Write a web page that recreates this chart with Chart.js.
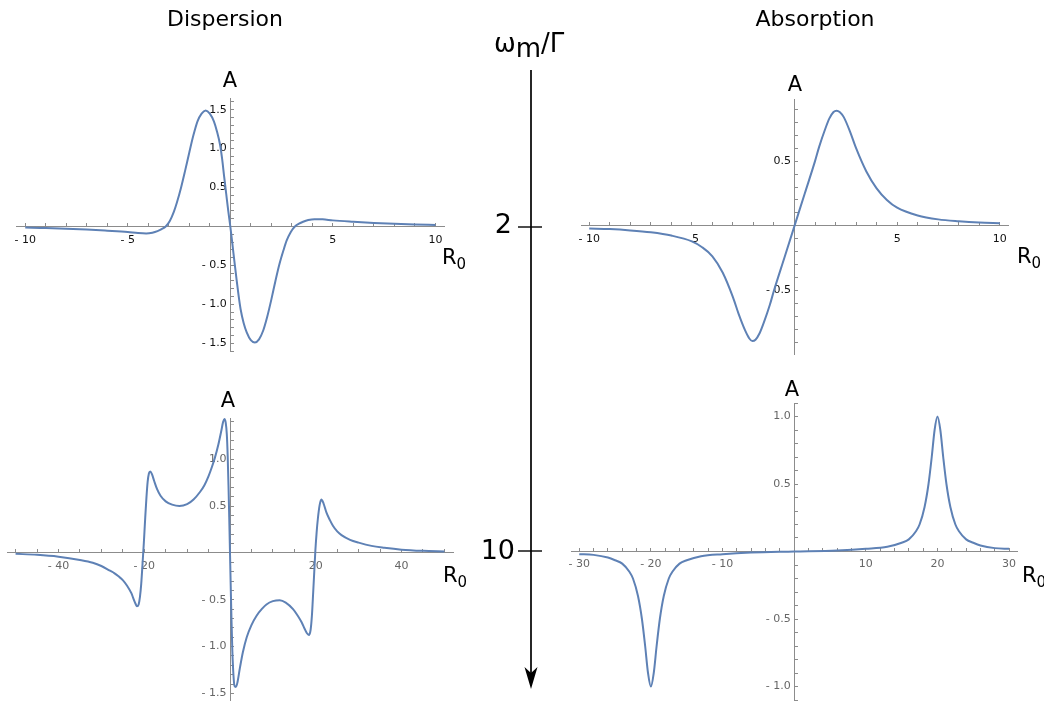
<!DOCTYPE html>
<html>
<head>
<meta charset="utf-8">
<script src="https://cdn.jsdelivr.net/npm/chart.js@4.4.0/dist/chart.umd.min.js"></script>
<style>
body { margin: 0; background: #fff; }
#page { position: relative; width: 1044px; height: 702px; overflow: hidden; font-family: "DejaVu Sans", sans-serif; color: #000; }
canvas { position: absolute; }
.lbl { position: absolute; line-height: 1; white-space: nowrap; }
.sub { position: relative; }
</style>
</head>
<body>
<div id="page">
  <canvas id="dispTop" width="460" height="300" style="left:0px;top:60px"></canvas>
  <canvas id="dispBottom" width="460" height="322" style="left:0px;top:380px"></canvas>
  <canvas id="absTop" width="484" height="300" style="left:560px;top:60px"></canvas>
  <canvas id="absBottom" width="484" height="332" style="left:560px;top:370px"></canvas>

  <svg width="1044" height="702" style="position:absolute;left:0;top:0">
    <line x1="531" y1="70" x2="531" y2="678" stroke="#000" stroke-width="1.7"/>
    <polygon points="531,689 524.5,667 531,673 537.5,667" fill="#000"/>
    <line x1="518" y1="227" x2="542" y2="227" stroke="#000" stroke-width="1.4"/>
    <line x1="518" y1="551" x2="542" y2="551" stroke="#000" stroke-width="1.4"/>
  </svg>

  <div class="lbl" style="font-size:22px;left:225px;top:8px;transform:translateX(-50%)">Dispersion</div>
  <div class="lbl" style="font-size:22px;left:815px;top:8px;transform:translateX(-50%)">Absorption</div>
  <div class="lbl" style="font-size:26px;left:494px;top:30px">ω<span class="sub" style="top:5px">m</span>/Γ</div>
  <div class="lbl" style="font-size:27px;right:532px;top:210px">2</div>
  <div class="lbl" style="font-size:27px;right:529px;top:536px">10</div>

  <div class="lbl" style="font-size:21px;left:230px;top:70px;transform:translateX(-50%)">A</div>
  <div class="lbl" style="font-size:21px;left:228px;top:390px;transform:translateX(-50%)">A</div>
  <div class="lbl" style="font-size:21px;left:795px;top:74px;transform:translateX(-50%)">A</div>
  <div class="lbl" style="font-size:21px;left:792px;top:379px;transform:translateX(-50%)">A</div>

  <div class="lbl" style="font-size:21px;left:442px;top:247px">R<span class="sub" style="font-size:15px;top:5px">0</span></div>
  <div class="lbl" style="font-size:21px;left:443px;top:565px">R<span class="sub" style="font-size:15px;top:5px">0</span></div>
  <div class="lbl" style="font-size:21px;left:1017px;top:246px">R<span class="sub" style="font-size:15px;top:5px">0</span></div>
  <div class="lbl" style="font-size:21px;left:1022px;top:565px">R<span class="sub" style="font-size:15px;top:5px">0</span></div>
</div>

<script>
// dispersion, omega_m / Gamma = 2
const dispW2R = [-10, -9, -8, -7, -6, -5, -4.5, -4.1, -3.8, -3.55, -3.35, -3.15, -2.95, -2.75, -2.6, -2.4, -2.2, -2.0, -1.8, -1.6,
  -1.4, -1.2, -1.0, -0.8, -0.65, -0.5, -0.4, -0.3, -0.2, -0.1, 0, 0.1, 0.2, 0.3, 0.4, 0.5, 0.65, 0.8, 1.0, 1.2,
  1.4, 1.6, 1.8, 2.0, 2.2, 2.4, 2.6, 2.75, 2.95, 3.15, 3.35, 3.55, 3.8, 4.1, 4.5, 5, 6, 7, 8, 9, 10];
const dispW2A = [-0.015, -0.02, -0.03, -0.04, -0.055, -0.072, -0.085, -0.09, -0.08, -0.06, -0.035, 0, 0.07, 0.19, 0.31, 0.5, 0.72, 0.95, 1.17, 1.35,
  1.45, 1.49, 1.45, 1.35, 1.22, 1.05, 0.87, 0.64, 0.42, 0.2, 0, -0.22, -0.45, -0.67, -0.88, -1.06, -1.24, -1.36, -1.46, -1.49,
  -1.45, -1.34, -1.16, -0.94, -0.7, -0.48, -0.3, -0.18, -0.07, 0, 0.035, 0.06, 0.082, 0.094, 0.092, 0.078, 0.06, 0.045, 0.034, 0.026, 0.02];

// dispersion, omega_m / Gamma = 10
const dispW10R = [-50, -45, -40, -35, -32, -30, -28, -27, -26, -25, -24, -23, -22.5, -22, -21.7, -21.3, -21, -20.7, -20.4, -20.1,
  -19.8, -19.5, -19.2, -18.9, -18.6, -18.2, -17.7, -17, -16.2, -15, -13.5, -11.8, -10, -8.5, -7, -6, -5, -4.2, -3.5, -2.7,
  -2, -1.6, -1.3, -1, -0.75, -0.55, -0.35, -0.18, 0, 0.18, 0.35, 0.55, 0.8, 1.05, 1.35, 1.7, 2.3, 3, 3.9, 5,
  6.2, 7.5, 8.5, 10, 11.6, 13, 14.7, 15.8, 16.7, 17.4, 17.9, 18.4, 18.8, 19.1, 19.4, 19.65, 19.9, 20.2, 20.5, 20.9,
  21.3, 21.8, 22.5, 23.3, 24, 25, 26, 28, 30, 33, 36, 40, 45, 50];
const dispW10A = [-0.01, -0.02, -0.04, -0.075, -0.105, -0.14, -0.19, -0.215, -0.25, -0.29, -0.35, -0.43, -0.49, -0.545, -0.57, -0.55, -0.47, -0.33, -0.12, 0.1,
  0.35, 0.58, 0.76, 0.85, 0.87, 0.84, 0.77, 0.68, 0.61, 0.55, 0.515, 0.5, 0.52, 0.57, 0.65, 0.72, 0.82, 0.92, 1.02, 1.16,
  1.31, 1.4, 1.43, 1.39, 1.27, 1.05, 0.72, 0.38, 0, -0.38, -0.72, -1.05, -1.3, -1.42, -1.43, -1.39, -1.23, -1.06, -0.9, -0.77,
  -0.67, -0.595, -0.55, -0.515, -0.505, -0.53, -0.6, -0.67, -0.74, -0.81, -0.855, -0.875, -0.82, -0.67, -0.42, -0.2, 0.02, 0.22, 0.37, 0.51,
  0.57, 0.53, 0.43, 0.35, 0.29, 0.23, 0.19, 0.14, 0.11, 0.075, 0.055, 0.035, 0.022, 0.015];

// absorption, omega_m / Gamma = 2
const absW2R = [-10, -9, -8, -7, -6, -5, -4.5, -4, -3.5, -3, -2.7, -2.4, -2.2, -2.05, -1.9, -1.7, -1.5, -1.2, -1, -0.5,
  0, 0.5, 1, 1.2, 1.5, 1.7, 1.9, 2.05, 2.2, 2.4, 2.7, 3, 3.5, 4, 4.5, 5, 6, 7, 8, 9, 10];
const absW2A = [-0.02, -0.025, -0.035, -0.05, -0.075, -0.12, -0.165, -0.235, -0.36, -0.55, -0.69, -0.81, -0.87, -0.89, -0.88, -0.83, -0.75, -0.61, -0.5, -0.25,
  0, 0.25, 0.5, 0.61, 0.75, 0.83, 0.88, 0.89, 0.88, 0.84, 0.73, 0.6, 0.42, 0.29, 0.2, 0.14, 0.08, 0.05, 0.035, 0.025, 0.02];

// absorption, omega_m / Gamma = 10
const absW10R = [-30, -28, -26, -25, -24, -23, -22.5, -21.8, -21.25, -20.8, -20.4, -20, -19.6, -19.2, -18.75, -18.2, -17.5, -17, -16, -15,
  -13, -10, -6, 0, 6, 10, 13, 15, 16, 17, 17.5, 18.2, 18.75, 19.2, 19.6, 20, 20.4, 20.8, 21.25, 21.8,
  22.5, 23, 24, 25, 26, 28, 30];
const absW10A = [-0.02, -0.025, -0.045, -0.065, -0.09, -0.15, -0.2, -0.33, -0.5, -0.7, -0.9, -1, -0.9, -0.7, -0.5, -0.33, -0.2, -0.15, -0.09, -0.065,
  -0.035, -0.02, -0.008, 0, 0.008, 0.02, 0.035, 0.065, 0.09, 0.15, 0.2, 0.33, 0.5, 0.7, 0.9, 1, 0.9, 0.7, 0.5, 0.33,
  0.2, 0.15, 0.09, 0.065, 0.045, 0.025, 0.02];

// labelled ticks
const dispW2XLabels = [-10, -5, 5, 10];
const dispW2YLabels = [-1.5, -1, -0.5, 0.5, 1, 1.5];
const dispW10XLabels = [-40, -20, 20, 40];
const dispW10YLabels = [-1.5, -1, -0.5, 0.5, 1];
const absW2XLabels = [-10, -5, 5, 10];
const absW2YLabels = [-0.5, 0.5];
const absW10XLabels = [-30, -20, -10, 10, 20, 30];
const absW10YLabels = [-1, -0.5, 0.5, 1];

const CURVE = '#5e81b5';
const AXIS = '#8c8c8c';

function steps(a, b, s) {
    let out = [];
    for (let v = a; v <= b + 1e-9; v += s) out.push(Math.round(v * 1000) / 1000);
    return out;
}

function near(list, v) {
    return list.some(m => Math.abs(m - v) < 1e-6);
}

function fmt(v, dec) {
    let s = Math.abs(v).toFixed(dec);
    return v < 0 ? '- ' + s : s;
}

function makePanel(id, xs, ys, p) {
    const font = { family: 'DejaVu Sans', size: 11 };
    new Chart(document.getElementById(id), {
        type: 'line',
        data: {
            datasets: [{
                data: xs.map((x, i) => ({ x: x, y: ys[i] })),
                borderColor: CURVE,
                borderWidth: 2,
                pointRadius: 0,
                fill: false,
                cubicInterpolationMode: 'monotone',
                clip: false
            }]
        },
        options: {
            responsive: false,
            animation: false,
            events: [],
            layout: { padding: p.pad },
            plugins: { legend: { display: false }, tooltip: { enabled: false } },
            scales: {
                x: {
                    type: 'linear',
                    min: p.xMin, max: p.xMax,
                    position: { y: 0 },
                    afterBuildTicks: s => { s.ticks = p.xTicks.map(v => ({ value: v })); },
                    afterFit: s => { s.height = 0; s.paddingLeft = 0; s.paddingRight = 0; },
                    border: { display: true, color: AXIS, width: 1 },
                    grid: { drawOnChartArea: false, drawTicks: true, tickLength: -4, tickColor: AXIS, tickWidth: 1 },
                    ticks: {
                        autoSkip: false, maxRotation: 0, minRotation: 0,
                        padding: p.xPad, color: p.labelColor, font: font,
                        callback: v => near(p.xLabels, v) ? fmt(v, 0) : ''
                    }
                },
                y: {
                    type: 'linear',
                    min: p.yMin, max: p.yMax,
                    position: { x: 0 },
                    afterBuildTicks: s => { s.ticks = p.yTicks.map(v => ({ value: v })); },
                    afterFit: s => { s.width = 0; s.paddingTop = 0; s.paddingBottom = 0; },
                    border: { display: true, color: AXIS, width: 1 },
                    grid: { drawOnChartArea: false, drawTicks: true, tickLength: -4, tickColor: AXIS, tickWidth: 1 },
                    ticks: {
                        autoSkip: false,
                        padding: 7, color: p.labelColor, font: font,
                        // trailing space keeps the label clear of the axis line
                        callback: v => near(p.yLabels, v) ? fmt(v, 1) + ' ' : ''
                    }
                }
            }
        }
    });
}

makePanel('dispTop', dispW2R, dispW2A, {
    pad: { left: 16, right: 16, top: 38, bottom: 9 },
    xMin: -10.45, xMax: 10.42, yMin: -1.6, yMax: 1.65,
    xTicks: steps(-10, 10, 1), yTicks: steps(-1.6, 1.6, 0.1),
    xLabels: dispW2XLabels, yLabels: dispW2YLabels,
    xPad: 11, labelColor: '#111'
});

makePanel('dispBottom', dispW10R, dispW10A, {
    pad: { left: 7, right: 7, top: 38, bottom: 2 },
    xMin: -52, xMax: 52, yMin: -1.57, yMax: 1.44,
    xTicks: steps(-50, 50, 5), yTicks: steps(-1.5, 1.4, 0.1),
    xLabels: dispW10XLabels, yLabels: dispW10YLabels,
    xPad: 10.5, labelColor: '#666'
});

makePanel('absTop', absW2R, absW2A, {
    pad: { left: 21, right: 36, top: 39, bottom: 6 },
    xMin: -10.4, xMax: 10.4, yMin: -0.99, yMax: 0.98,
    xTicks: steps(-10, 10, 1), yTicks: steps(-0.9, 0.9, 0.1),
    xLabels: absW2XLabels, yLabels: absW2YLabels,
    xPad: 11, labelColor: '#111'
});

makePanel('absBottom', absW10R, absW10A, {
    pad: { left: 11, right: 27, top: 33, bottom: 2 },
    xMin: -31.15, xMax: 31.1, yMin: -1.1, yMax: 1.1,
    xTicks: steps(-30, 30, 2), yTicks: steps(-1.1, 1.1, 0.1),
    xLabels: absW10XLabels, yLabels: absW10YLabels,
    xPad: 10, labelColor: '#666'
});
</script>
</body>
</html>
